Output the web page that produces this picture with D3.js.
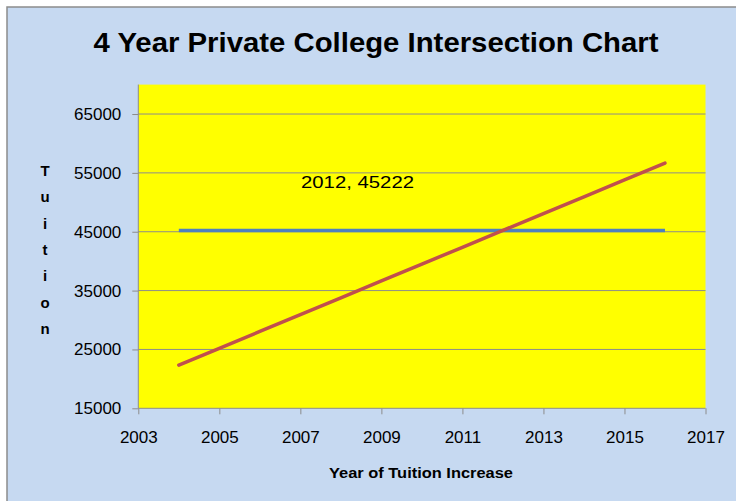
<!DOCTYPE html>
<html>
<head>
<meta charset="utf-8">
<script src="https://cdn.jsdelivr.net/npm/d3@7"></script>
<style>
  html, body { margin: 0; padding: 0; background: #ffffff; }
  svg { display: block; }
  text { font-family: "Liberation Sans", Arial, sans-serif; fill: #000; }
</style>
</head>
<body>
<svg id="chart" width="736" height="501"></svg>
<script>
// Tuition by year (2004–2016)
const years = [2004, 2005, 2006, 2007, 2008, 2009, 2010, 2011, 2012, 2013, 2014, 2015, 2016];
const increasingTuition = [22340, 25200, 28060, 30920, 33780, 36640, 39500, 42360, 45222, 48080, 50940, 53800, 56660];
const flatTuition = [45222, 45222, 45222, 45222, 45222, 45222, 45222, 45222, 45222, 45222, 45222, 45222, 45222];

const xTicks = [2003, 2005, 2007, 2009, 2011, 2013, 2015, 2017];
const yTicks = [15000, 25000, 35000, 45000, 55000, 65000];

const titleText = "4 Year Private College Intersection Chart";
const xTitleText = "Year of Tuition Increase";
const yTitleText = "Tuition";
const intersection = { year: 2012, value: 45222 };

const svg = d3.select("#chart");
const W = 736, H = 501;

// chart panel with frame
svg.append("rect").attr("x", 7).attr("y", 7).attr("width", W).attr("height", H)
  .attr("fill", "#C6D9F1").attr("stroke", "#8C8C8C").attr("stroke-width", 1.5);

const plot = { left: 138.3, right: 705.5, top: 84.6, bottom: 408.3 };

const x = d3.scaleLinear().domain([2003, 2017]).range([plot.left, plot.right]);
const y = d3.scaleLinear().domain([15000, 70000]).range([plot.bottom, plot.top]);

// plot area
svg.append("rect")
  .attr("x", plot.left).attr("y", plot.top)
  .attr("width", plot.right - plot.left).attr("height", plot.bottom - plot.top)
  .attr("fill", "#FFFF00");

// horizontal gridlines
svg.append("g").selectAll("line").data(yTicks.filter(d => d > 15000)).join("line")
  .attr("x1", plot.left).attr("x2", plot.right)
  .attr("y1", d => y(d)).attr("y2", d => y(d))
  .attr("stroke", "#8C8C8C").attr("stroke-width", 1);

// y axis
const yAxis = svg.append("g")
  .attr("transform", `translate(${plot.left},0)`)
  .call(d3.axisLeft(y).tickValues(yTicks).tickSize(6).tickPadding(11).tickFormat(d3.format("d")));
yAxis.select(".domain").attr("stroke", "#8C8C8C").attr("d", `M0,${plot.top}V${plot.bottom}`);
yAxis.selectAll(".tick line").attr("stroke", "#8C8C8C");
yAxis.selectAll(".tick text").attr("font-size", 17).attr("font-family", "Liberation Sans, Arial, sans-serif").attr("fill", "#222");

// x axis
const xAxis = svg.append("g")
  .attr("transform", `translate(0,${plot.bottom})`)
  .call(d3.axisBottom(x).tickValues(xTicks).tickSize(6).tickPadding(10).tickFormat(d3.format("d")));
xAxis.select(".domain").attr("stroke", "#8C8C8C").attr("d", `M${plot.left},0H${plot.right}`);
xAxis.selectAll(".tick line").attr("stroke", "#8C8C8C");
xAxis.selectAll(".tick text").attr("font-size", 17).attr("font-family", "Liberation Sans, Arial, sans-serif").attr("fill", "#222")
  .attr("dy", null).attr("y", 35);

// series lines
const line = d3.line().x(d => x(d[0])).y(d => y(d[1]));
svg.append("path")
  .datum(years.map((yr, i) => [yr, flatTuition[i]]))
  .attr("d", line).attr("fill", "none")
  .attr("stroke", "#4F81BD").attr("stroke-width", 3.5);
svg.append("path")
  .datum(years.map((yr, i) => [yr, increasingTuition[i]]))
  .attr("d", line).attr("fill", "none")
  .attr("stroke", "#C0504D").attr("stroke-width", 3.5).attr("stroke-linecap", "round");

// intersection label
svg.append("text")
  .attr("x", 301).attr("y", 188)
  .attr("font-size", 17)
  .attr("textLength", 113).attr("lengthAdjust", "spacingAndGlyphs")
  .text(`${intersection.year}, ${intersection.value}`);

// title
svg.append("text")
  .attr("x", 93.5).attr("y", 52.3)
  .attr("font-size", 27).attr("font-weight", "bold")
  .attr("textLength", 565).attr("lengthAdjust", "spacingAndGlyphs")
  .text(titleText);

// x axis title
svg.append("text")
  .attr("x", 329).attr("y", 477.5)
  .attr("font-size", 14.5).attr("font-weight", "bold")
  .attr("textLength", 184).attr("lengthAdjust", "spacingAndGlyphs")
  .text(xTitleText);

// y axis title, stacked letters
svg.append("g").selectAll("text").data(yTitleText.split("")).join("text")
  .attr("x", 45).attr("y", (d, i) => 176 + i * 26.3)
  .attr("text-anchor", "middle")
  .attr("font-size", 15).attr("font-weight", "bold")
  .text(d => d);
</script>
</body>
</html>
